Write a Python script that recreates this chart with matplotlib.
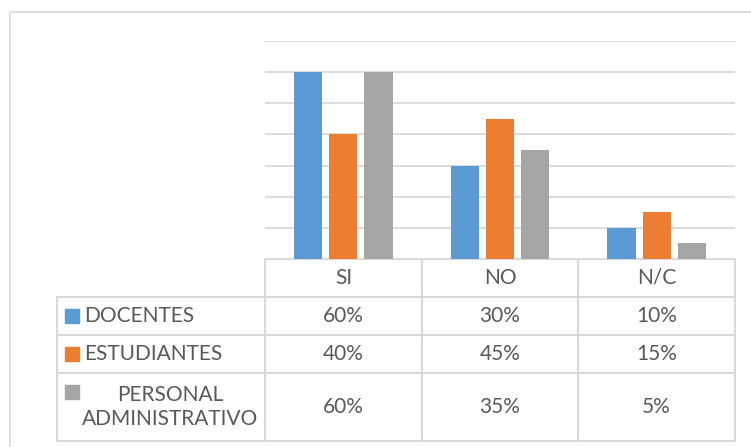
import numpy as np
import matplotlib.pyplot as plt
from matplotlib.patches import Rectangle

# ===================== datos =====================
categorias = ["SI", "NO", "N/C"]
series = ["DOCENTES", "ESTUDIANTES", "PERSONAL\nADMINISTRATIVO"]
docentes = [0.60, 0.30, 0.10]
estudiantes = [0.40, 0.45, 0.15]
personal = [0.60, 0.35, 0.05]
valores = [docentes, estudiantes, personal]
colores = ["#5B9BD5", "#ED7D31", "#A5A5A5"]

plt.rcParams["font.family"] = ["Lato", "DejaVu Sans"]
TXT = "#595959"
GRID = "#D9D9D9"
FS = 15

W, H = 751, 447
fig = plt.figure(figsize=(W / 100, H / 100), dpi=100)

# capa en pixeles para marco y tabla
bg = fig.add_axes([0, 0, 1, 1])
bg.set_xlim(0, W)
bg.set_ylim(H, 0)
bg.axis("off")
bg.add_patch(Rectangle((10, 12), W, H, fill=False, ec=GRID, lw=1.2))

# ===================== grafico de barras =====================
x0, x1 = 265, 735
y_top, y_base = 41, 259
ax = fig.add_axes([x0 / W, 1 - y_base / H, (x1 - x0) / W, (y_base - y_top) / H])
x = np.arange(len(categorias))
ancho = 0.18
paso = 0.224
for i, (vals, c) in enumerate(zip(valores, colores)):
    ax.bar(x + (i - 1) * paso, vals, ancho, color=c, zorder=3)
ax.set_xlim(-0.5, len(categorias) - 0.5)
ax.set_ylim(0, 0.7)
ax.set_yticks(np.arange(0, 0.71, 0.1))
ax.yaxis.grid(True, color=GRID, lw=1.3, zorder=0)
ax.tick_params(left=False, bottom=False, labelleft=False, labelbottom=False)
for s in ax.spines.values():
    s.set_visible(False)

# ===================== tabla de datos =====================
col_x = [57, 265, 422, 578, 735]
fila_y = [259, 297, 335, 373, 441]
lc = dict(color=GRID, lw=1.5)
# encabezado
bg.plot([265, 735], [259, 259], **lc)
for xx in col_x[1:]:
    bg.plot([xx, xx], [259, 441], **lc)
bg.plot([57, 57], [297, 441], **lc)
for yy in fila_y[1:]:
    bg.plot([57, 735], [yy, yy], **lc)

for j, cat in enumerate(categorias):
    cx = (col_x[j + 1] + col_x[j + 2]) / 2
    bg.text(cx, 278, cat, ha="center", va="center", fontsize=FS, color=TXT)

centros_fila = [316, 354, 407]
for i, (nombre, vals, c) in enumerate(zip(series, valores, colores)):
    cy = centros_fila[i]
    sq_y = cy - 7 if i < 2 else 385
    bg.add_patch(Rectangle((65, sq_y), 14, 14, color=c))
    if i < 2:
        bg.text(84, cy, nombre, ha="left", va="center", fontsize=FS, color=TXT)
    else:
        bg.text(170.5, cy, nombre, ha="center", va="center", fontsize=FS,
                color=TXT, linespacing=1.3, multialignment="center")
    for j, v in enumerate(vals):
        cx = (col_x[j + 1] + col_x[j + 2]) / 2
        bg.text(cx, cy, f"{v:.0%}", ha="center", va="center", fontsize=FS, color=TXT)

fig.savefig("out.png", dpi=100)
